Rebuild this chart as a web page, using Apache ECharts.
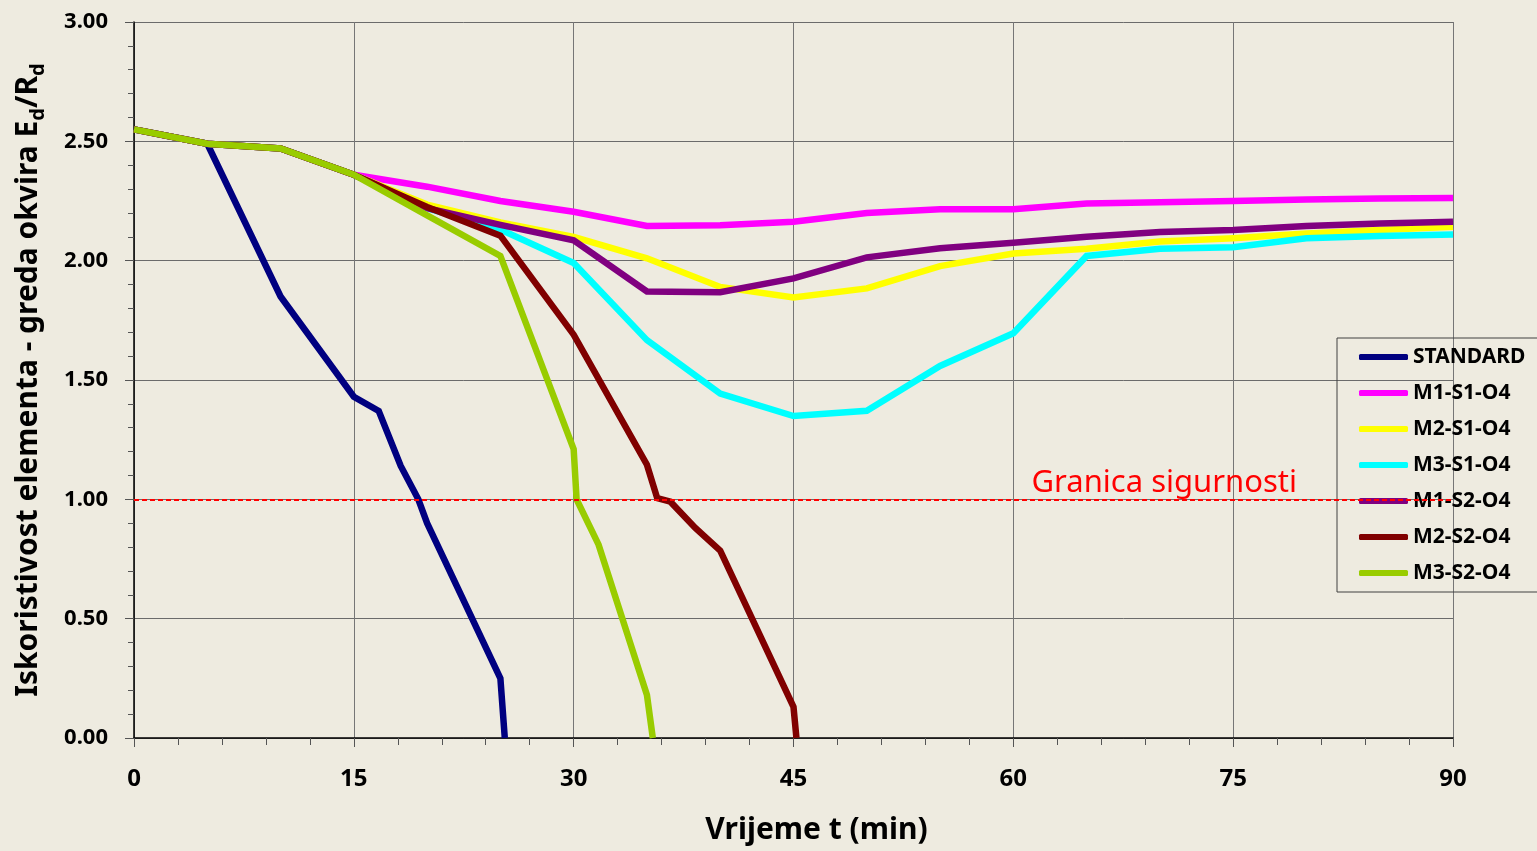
<!DOCTYPE html>
<html>
<head>
<meta charset="utf-8">
<script src="https://cdn.jsdelivr.net/npm/echarts@6/dist/echarts.min.js"></script>
<style>
  html, body { margin: 0; padding: 0; background: #EEEBE0; }
  #chart { width: 1537px; height: 851px; }
</style>
</head>
<body>
<div id="chart"></div>
<script>
// Time axis (min) shared by the four series that survive the full 90 minutes
const timesFull = [0, 5, 10, 15, 20, 25, 30, 35, 40, 45, 50, 55, 60, 65, 70, 75, 80, 85, 90];

const m1s1Values = [2.55, 2.49, 2.47, 2.36, 2.31, 2.25, 2.205, 2.145, 2.148, 2.163, 2.20, 2.215, 2.215, 2.24, 2.245, 2.25, 2.256, 2.26, 2.263];
const m2s1Values = [2.55, 2.49, 2.47, 2.36, 2.235, 2.16, 2.10, 2.01, 1.89, 1.846, 1.884, 1.977, 2.03, 2.05, 2.08, 2.094, 2.114, 2.128, 2.142];
const m3s1Values = [2.55, 2.49, 2.47, 2.36, 2.22, 2.13, 1.99, 1.667, 1.443, 1.349, 1.371, 1.559, 1.696, 2.02, 2.05, 2.056, 2.094, 2.103, 2.11];
const m1s2Values = [2.55, 2.49, 2.47, 2.36, 2.22, 2.15, 2.085, 1.871, 1.868, 1.926, 2.014, 2.052, 2.075, 2.10, 2.12, 2.128, 2.145, 2.156, 2.163];

// Series that fail before 90 minutes have their own time points
const standardTimes  = [0, 5, 10, 15, 16.7, 18.2, 19.4, 20, 25, 25.3];
const standardValues = [2.55, 2.49, 1.85, 1.43, 1.37, 1.14, 1.0, 0.90, 0.25, 0];

const m2s2Times  = [0, 5, 10, 15, 20, 25, 30, 35, 35.7, 36.6, 38.3, 40, 45, 45.2];
const m2s2Values = [2.55, 2.49, 2.47, 2.36, 2.225, 2.105, 1.69, 1.145, 1.005, 0.99, 0.88, 0.785, 0.13, 0];

const m3s2Times  = [0, 5, 10, 15, 20, 25, 30, 30.2, 31.7, 35, 35.4];
const m3s2Values = [2.55, 2.49, 2.47, 2.36, 2.19, 2.02, 1.21, 1.0, 0.81, 0.18, 0];

const safetyLimit = 1.0;
const safetyLabel = 'Granica sigurnosti';

const seriesNames  = ['STANDARD', 'M1-S1-O4', 'M2-S1-O4', 'M3-S1-O4', 'M1-S2-O4', 'M2-S2-O4', 'M3-S2-O4'];
const seriesColors = ['#000080', '#FF00FF', '#FFFF00', '#00FFFF', '#800080', '#800000', '#99CC00'];

const xTicks = { min: 0, max: 90, interval: 15 };
const yTicks = { min: 0, max: 3, interval: 0.5 };

function pairs(ts, vs) { return ts.map((t, i) => [t, vs[i]]); }

const seriesData = [
  pairs(standardTimes, standardValues),
  pairs(timesFull, m1s1Values),
  pairs(timesFull, m2s1Values),
  pairs(timesFull, m3s1Values),
  pairs(timesFull, m1s2Values),
  pairs(m2s2Times, m2s2Values),
  pairs(m3s2Times, m3s2Values)
];

const FONT = '"Noto Sans", "Open Sans", sans-serif';

const chart = echarts.init(document.getElementById('chart'), null, { renderer: 'canvas' });

const series = seriesNames.map((name, i) => ({
  name: name,
  type: 'line',
  data: seriesData[i],
  symbol: 'none',
  color: seriesColors[i],
  lineStyle: { color: seriesColors[i], width: 6.5, join: 'miter' },
  animation: false
}));

// Horizontal dashed safety limit, drawn above the curves
series.push({
  name: safetyLabel,
  type: 'line',
  data: [],
  z: 5,
  silent: true,
  animation: false,
  markLine: {
    silent: true,
    symbol: ['none', 'none'],
    animation: false,
    lineStyle: { color: '#FF0000', width: 2.2, type: [5, 3] },
    label: {
      show: true,
      formatter: safetyLabel,
      position: 'insideEndTop',
      distance: [156, 1],
      color: '#FF0000',
      fontSize: 31,
      fontFamily: FONT
    },
    data: [{ yAxis: safetyLimit }]
  }
});

chart.setOption({
  backgroundColor: '#EEEBE0',
  animation: false,
  grid: { left: 133, top: 22, right: 84, bottom: 113, containLabel: false },
  legend: {
    data: seriesNames,
    orient: 'vertical',
    left: 1337,
    top: 338,
    padding: [7, 40, 7, 22],
    borderColor: '#404040',
    borderWidth: 1,
    backgroundColor: 'transparent',
    icon: 'roundRect',
    itemWidth: 49,
    itemHeight: 6,
    itemGap: 12,
    textStyle: { fontFamily: FONT, fontSize: 21, fontWeight: 'bold', color: '#000', lineHeight: 24 }
  },
  xAxis: {
    type: 'value',
    min: xTicks.min,
    max: xTicks.max,
    interval: xTicks.interval,
    name: 'Vrijeme t (min)',
    nameLocation: 'middle',
    nameGap: 77,
    nameTextStyle: { fontFamily: FONT, fontSize: 30, fontWeight: 'bold', color: '#000', padding: [0, 0, 0, 46] },
    axisLine: { show: true, lineStyle: { color: '#000', width: 1.5 } },
    axisTick: { show: true, inside: false, length: 9, lineStyle: { color: '#555' } },
    minorTick: { show: true, splitNumber: 5, length: 7, lineStyle: { color: '#555' } },
    axisLabel: { fontFamily: FONT, fontSize: 24, fontWeight: 'bold', color: '#000', margin: 29 },
    splitLine: { show: true, lineStyle: { color: '#767676', width: 1 } }
  },
  yAxis: {
    type: 'value',
    min: yTicks.min,
    max: yTicks.max,
    interval: yTicks.interval,
    name: 'Iskoristivost elementa - greda okvira E{sub|d}/R{sub|d}',
    nameLocation: 'middle',
    nameGap: 86,
    nameTextStyle: {
      fontFamily: FONT, fontSize: 30, fontWeight: 'bold', color: '#000', lineHeight: 40,
      rich: {
        sub: { fontFamily: FONT, fontSize: 20, fontWeight: 'bold', color: '#000', verticalAlign: 'bottom', lineHeight: 20 }
      }
    },
    axisLine: { show: true, lineStyle: { color: '#000', width: 1.5 } },
    axisTick: { show: true, inside: false, length: 9, lineStyle: { color: '#555' } },
    minorTick: { show: true, splitNumber: 5, length: 6, lineStyle: { color: '#555' } },
    axisLabel: {
      fontFamily: FONT, fontSize: 22, fontWeight: 'bold', color: '#000', margin: 26,
      formatter: v => v.toFixed(2)
    },
    splitLine: { show: true, lineStyle: { color: '#6b6b6b', width: 1 } }
  },
  series: series
});
</script>
</body>
</html>
